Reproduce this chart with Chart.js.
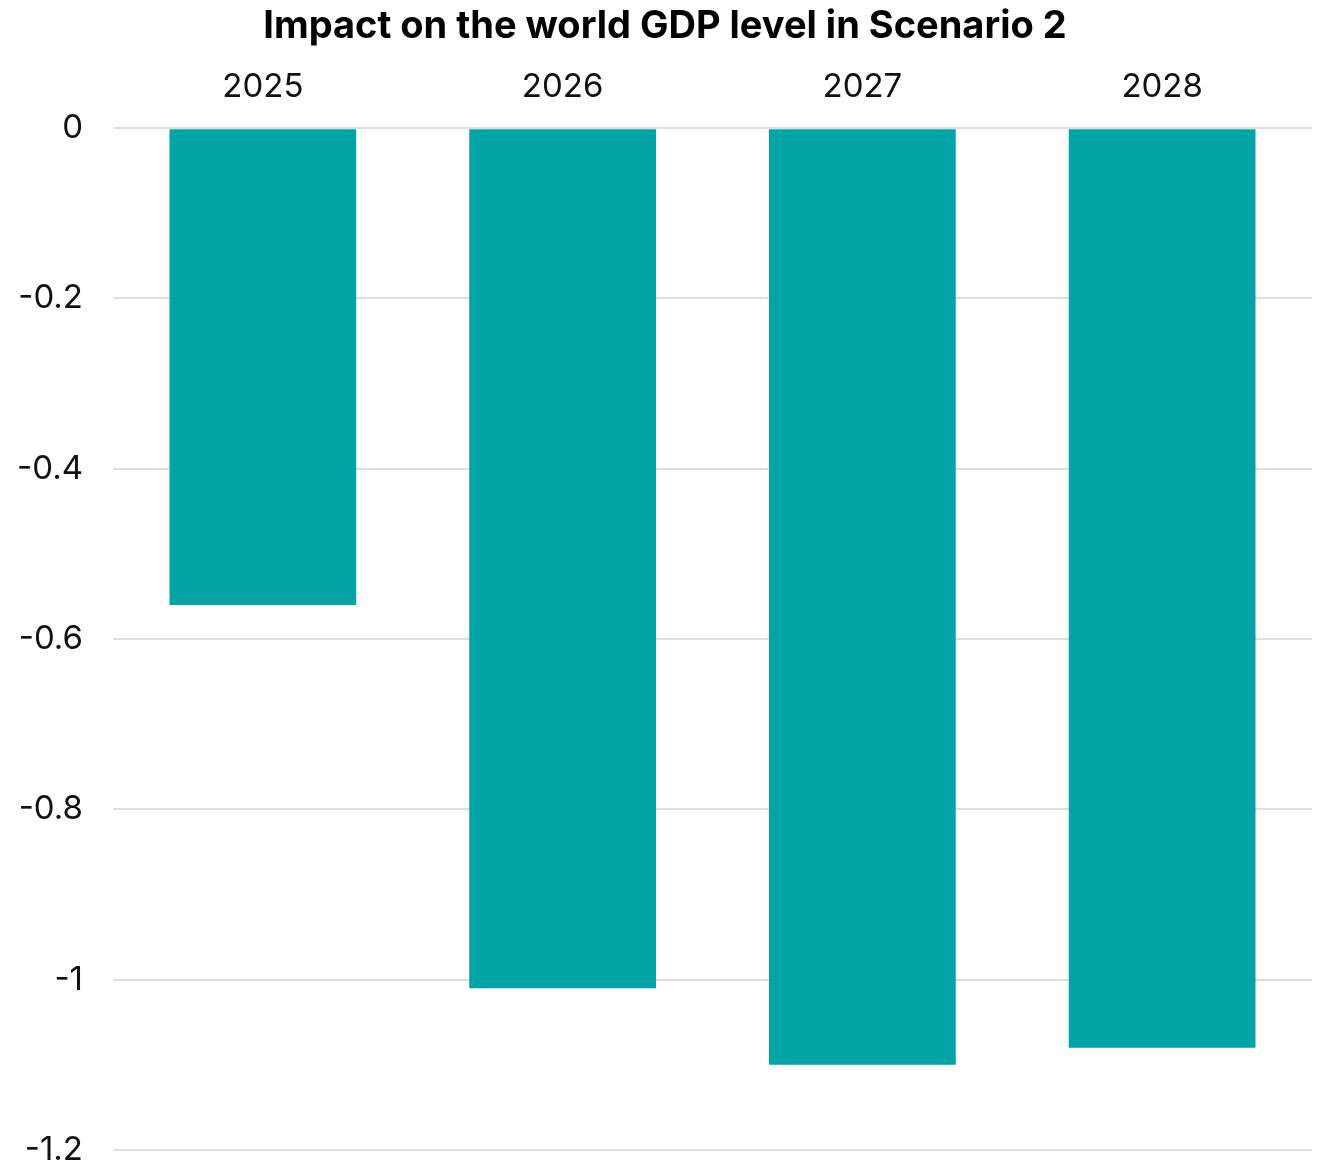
<!DOCTYPE html>
<html>
<head>
<meta charset="utf-8">
<script src="https://cdn.jsdelivr.net/npm/chart.js@4/dist/chart.umd.min.js"></script>
<style>
  html, body { margin: 0; padding: 0; background: #fff; overflow: hidden; }
  #wrap { width: 1322px; height: 1162px; position: relative; }
</style>
</head>
<body>
<div id="wrap"><canvas id="chart"></canvas></div>
<script>
// Years shown along the top axis
const years = ['2025', '2026', '2027', '2028'];
// Deviation of world GDP level (%) under Scenario 2
const gdpImpact = [-0.56, -1.01, -1.10, -1.08];
// Value-axis ticks
const yTicks = [0, -0.2, -0.4, -0.6, -0.8, -1, -1.2];

const FONT = 'Inter, "Noto Sans", sans-serif';

new Chart(document.getElementById('chart'), {
  type: 'bar',
  data: {
    labels: years,
    datasets: [{
      label: 'World GDP level',
      data: gdpImpact,
      backgroundColor: '#02a4a6',
      borderWidth: 0,
      categoryPercentage: 1,
      barPercentage: 0.623
    }]
  },
  options: {
    responsive: true,
    maintainAspectRatio: false,
    animation: false,
    layout: { padding: { left: 18, right: 10, top: 0, bottom: 12 } },
    plugins: {
      legend: { display: false },
      tooltip: { enabled: false },
      title: {
        display: true,
        text: 'Impact on the world GDP level in Scenario 2',
        color: '#000',
        font: { family: FONT, size: 38, weight: 'bold' },
        padding: { top: 4, bottom: -3 }
      }
    },
    scales: {
      x: {
        position: 'top',
        grid: { display: false, drawTicks: false },
        border: { display: false },
        ticks: {
          color: '#111',
          font: { family: FONT, size: 33 },
          padding: 21
        },
        afterFit: (scale) => { scale.paddingLeft = 0; scale.paddingRight = 0; }
      },
      y: {
        min: -1.2,
        max: 0,
        afterBuildTicks: (scale) => { scale.ticks = yTicks.map(v => ({ value: v })); },
        afterFit: (scale) => {
          scale.width = 95;
          scale.paddingTop = 0;
          scale.paddingBottom = 0;
        },
        grid: { color: '#dedede', lineWidth: 2, drawTicks: false },
        border: { display: false },
        ticks: {
          color: '#111',
          font: { family: FONT, size: 33 },
          padding: 30,
          callback: (v) => String(v)
        }
      }
    }
  }
});
</script>
</body>
</html>
